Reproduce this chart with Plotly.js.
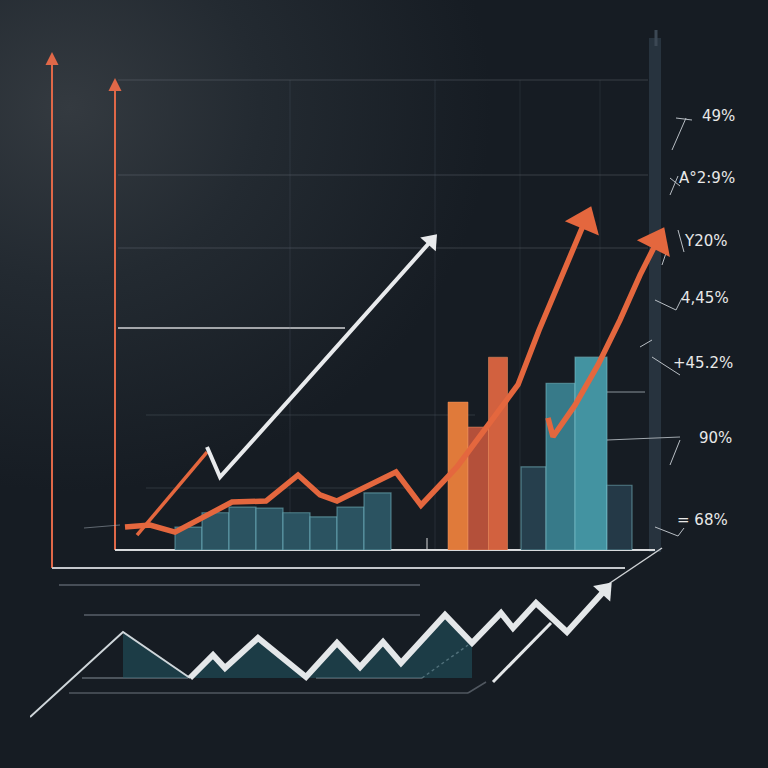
<!DOCTYPE html>
<html><head><meta charset="utf-8">
<script src="https://cdn.plot.ly/plotly-3.0.1.min.js"></script>
<style>
html,body{margin:0;padding:0;width:768px;height:768px;overflow:hidden;
background: radial-gradient(ellipse 55% 50% at 9% 14%, #343a40 0%, #232a31 45%, #161c23 100%);}
#chart{width:768px;height:768px;}
</style></head><body><div id="chart"></div>
<script>
// ---- main chart data (x: period units, y: value %) ----
const trendAX = [1.0, 3.5, 6.0, 11.7, 15.1, 18.3, 20.5, 22.2, 28.1, 30.6, 34.2, 40.3, 42.4, 47.0];
const trendAY = [4.5, 4.9, 3.5, 9.4, 9.6, 14.7, 10.8, 9.6, 15.3, 8.8, 16.3, 32.4, 43.1, 64.5];
const trendBX = [43.3, 43.8, 46.0, 48.3, 50.5, 52.5, 54.2];
const trendBY = [25.9, 22.2, 28.4, 36.3, 45.1, 53.9, 60.5];
const trendCX = [2.2, 9.2];
const trendCY = [2.9, 19.2];
const whiteX = [9.2, 10.5, 18.5, 31.6];
const whiteY = [20.2, 14.3, 31.8, 60.6];

const tealLeftX = [7.35, 10.05, 12.75, 15.45, 18.15, 20.85, 23.55, 26.25];
const tealLeftY = [4.5, 7.3, 8.4, 8.2, 7.3, 6.5, 8.4, 11.2];
const orangeBarX = [34.3, 36.35, 38.3];
const orangeBarY = [29.0, 24.1, 37.8];
const tealRightX = [41.85, 44.55, 47.6, 50.45];
const tealRightY = [16.3, 32.7, 37.8, 12.7];

// ---- lower zigzag data ----
const zigX = [0, 9.3, 16.0, 18.3, 19.5, 22.8, 27.6, 30.7, 33.0, 35.3, 37.1, 41.5, 44.2, 47.1, 48.3, 50.6, 53.7, 57.5];
const zigY = [0.3, 8.8, 4.2, 6.5, 5.2, 8.2, 4.3, 7.7, 5.3, 7.8, 5.7, 10.5, 7.7, 10.7, 9.2, 11.7, 8.8, 13.0];
const zigBase = 4.2;

// ---- right side labels ----
const labelText = ["49%", "A°2:9%", "Y20%", "4,45%", "+45.2%", "90%", "= 68%"];

const ORANGE = '#e4673e';
const endMarker = (n, s) => Array.from({length: n}, (_, i) => i === n - 1 ? s : 0);
const arrowMarker = (n, s, c) => ({symbol:'triangle-up', angleref:'previous', size:endMarker(n, s), color:c, opacity:1, line:{width:0}});

const traces = [];
// bars
traces.push({type:'bar', x:tealLeftX, y:tealLeftY, width:2.7, xaxis:'x', yaxis:'y',
  marker:{color:'#2b5361', line:{color:'rgba(120,190,200,0.55)', width:1.2}}, hoverinfo:'skip'});
traces.push({type:'bar', x:orangeBarX, y:orangeBarY, width:[2.0,2.1,1.9], xaxis:'x', yaxis:'y',
  marker:{color:['#e07a3a','#b4503a','#d2613f'], line:{color:'rgba(240,150,100,0.5)', width:1}}, hoverinfo:'skip'});
traces.push({type:'bar', x:tealRightX, y:tealRightY, width:[2.5,2.9,3.2,2.5], xaxis:'x', yaxis:'y',
  marker:{color:['#263f4d','#377a89','#4393a1','#243947'], line:{color:'rgba(130,200,210,0.5)', width:1.2}}, hoverinfo:'skip'});
// lines
traces.push({type:'scatter', mode:'lines', x:trendCX, y:trendCY, xaxis:'x', yaxis:'y',
  line:{color:ORANGE, width:3.5}, hoverinfo:'skip'});
traces.push({type:'scatter', mode:'lines+markers', x:whiteX, y:whiteY, xaxis:'x', yaxis:'y',
  line:{color:'#e8eaec', width:4}, marker:arrowMarker(whiteX.length, 18, '#e8eaec'), hoverinfo:'skip'});
traces.push({type:'scatter', mode:'lines+markers', x:trendAX, y:trendAY, xaxis:'x', yaxis:'y',
  line:{color:ORANGE, width:5.5}, marker:arrowMarker(trendAX.length, 32, ORANGE), hoverinfo:'skip'});
traces.push({type:'scatter', mode:'lines+markers', x:trendBX, y:trendBY, xaxis:'x', yaxis:'y',
  line:{color:ORANGE, width:5.5}, marker:arrowMarker(trendBX.length, 32, ORANGE), hoverinfo:'skip'});

// zigzag fill
const fillX = zigX.slice(1, 13), fillY = zigY.slice(1, 13);
traces.push({type:'scatter', mode:'lines', x:[fillX[0], fillX[fillX.length-1]], y:[zigBase, zigBase],
  xaxis:'x2', yaxis:'y2', line:{width:0}, hoverinfo:'skip'});
traces.push({type:'scatter', mode:'lines', x:fillX, y:fillY, xaxis:'x2', yaxis:'y2', fill:'tonexty',
  fillcolor:'rgba(34,92,106,0.5)', line:{width:0}, hoverinfo:'skip'});
traces.push({type:'scatter', mode:'lines', x:zigX.slice(0,3), y:zigY.slice(0,3), xaxis:'x2', yaxis:'y2',
  line:{color:'#cfd6da', width:2}, hoverinfo:'skip'});
const zx = zigX.slice(2), zy = zigY.slice(2);
traces.push({type:'scatter', mode:'lines+markers', x:zx, y:zy, xaxis:'x2', yaxis:'y2',
  line:{color:'#e4e7e9', width:6}, marker:arrowMarker(zx.length, 20, '#e4e7e9'), hoverinfo:'skip'});

// ---- decorations (paper coords from pixel positions) ----
const PX = v => v / 768, PY = v => 1 - v / 768;
const L = (x0, y0, x1, y1, color, width, dash) => ({type:'line', xref:'paper', yref:'paper',
  x0:PX(x0), y0:PY(y0), x1:PX(x1), y1:PY(y1), line:{color, width, dash: dash || 'solid'}, layer:'below'});
const shapes = [
  {type:'rect', xref:'paper', yref:'paper', x0:PX(649), x1:PX(661), y0:PY(552), y1:PY(38), fillcolor:'#27333e', line:{width:0}, layer:'below'},
  L(656, 30, 656, 46, '#3c4854', 3),
  L(118, 80, 648, 80, 'rgba(120,130,140,0.35)', 1),
  L(118, 175, 648, 175, 'rgba(120,130,140,0.35)', 1),
  L(118, 248, 648, 248, 'rgba(120,130,140,0.35)', 1),
  L(118, 328, 345, 328, '#d0d2d4', 1.5),
  L(146, 415, 475, 415, 'rgba(110,120,130,0.3)', 1),
  L(146, 488, 410, 488, 'rgba(110,120,130,0.3)', 1),
  L(607, 392, 645, 392, '#8a939b', 1),
  L(607, 440, 680, 437, '#a0a7ad', 1),
  L(290, 80, 290, 550, 'rgba(90,100,110,0.25)', 1),
  L(435, 80, 435, 550, 'rgba(90,100,110,0.25)', 1),
  L(520, 80, 520, 550, 'rgba(90,100,110,0.2)', 1),
  L(600, 80, 600, 550, 'rgba(90,100,110,0.2)', 1),
  L(115, 88, 115, 550, '#e06848', 2),
  L(115, 550, 655, 550, '#d8dadc', 2),
  L(52, 62, 52, 568, '#e06848', 2),
  L(52, 568, 625, 568, '#c5c8cc', 2),
  L(607, 585, 662, 548, '#cfd2d5', 1.5),
  L(59, 585, 420, 585, 'rgba(170,180,190,0.45)', 1.5),
  L(84, 615, 420, 615, 'rgba(170,180,190,0.45)', 1.5),
  L(82, 678, 188, 678, 'rgba(170,180,190,0.5)', 1.5),
  L(316, 678, 422, 678, 'rgba(170,180,190,0.5)', 1.5),
  L(422, 678, 468, 645, 'rgba(200,205,210,0.6)', 1.5, 'dot'),
  L(69, 693, 468, 693, 'rgba(150,160,170,0.45)', 1.5),
  L(468, 693, 486, 682, 'rgba(150,160,170,0.45)', 1.5),
  L(493, 682, 551, 623, '#e4e7e9', 3),
  L(427, 538, 427, 550, '#d8dadc', 1),
  L(84, 528, 120, 525, 'rgba(170,180,190,0.5)', 1),
  // label tick glyphs
  L(672, 150, 686, 118, '#b8bec4', 1), L(676, 118, 692, 120, '#b8bec4', 1),
  L(670, 195, 678, 176, '#b8bec4', 1), L(670, 178, 680, 186, '#b8bec4', 1),
  L(678, 230, 684, 252, '#b8bec4', 1), L(662, 265, 667, 250, '#b8bec4', 1),
  L(655, 300, 676, 310, '#b8bec4', 1), L(676, 310, 682, 298, '#b8bec4', 1),
  L(652, 340, 640, 347, '#b8bec4', 1), L(652, 357, 680, 375, '#b8bec4', 1),
  L(670, 465, 680, 440, '#b8bec4', 1),
  L(655, 527, 678, 536, '#b8bec4', 1), L(678, 536, 684, 528, '#b8bec4', 1)
];

const labelPX = [700, 677, 682, 679, 671, 697, 675];
const labelPY = [116, 178, 241, 298, 363, 438, 520];
const annotations = labelText.map((t, i) => ({xref:'paper', yref:'paper', x:PX(labelPX[i]), y:PY(labelPY[i]),
  xanchor:'left', yanchor:'middle', text:t, showarrow:false,
  font:{family:'DejaVu Sans, sans-serif', size:15, color:'#e8e8e8'}}));
annotations.push({xref:'paper', yref:'paper', x:PX(115), y:PY(78), ax:0, ay:22, text:'', showarrow:true,
  arrowhead:2, arrowsize:1.3, arrowwidth:2, arrowcolor:'#e06848'});
annotations.push({xref:'paper', yref:'paper', x:PX(52), y:PY(52), ax:0, ay:22, text:'', showarrow:true,
  arrowhead:2, arrowsize:1.3, arrowwidth:2, arrowcolor:'#e06848'});

const hidden = {visible:false, showgrid:false, zeroline:false, fixedrange:true};
const layout = {
  width:768, height:768, margin:{l:0, r:0, t:0, b:0},
  paper_bgcolor:'rgba(0,0,0,0)', plot_bgcolor:'rgba(0,0,0,0)',
  showlegend:false, barmode:'overlay',
  xaxis: Object.assign({domain:[115/768, 700/768], range:[0, 58.5], anchor:'y'}, hidden),
  yaxis: Object.assign({domain:[218/768, 728/768], range:[0, 100], anchor:'x'}, hidden),
  xaxis2: Object.assign({domain:[30/768, 670/768], range:[0, 64], anchor:'y2'}, hidden),
  yaxis2: Object.assign({domain:[48/768, 228/768], range:[0, 18], anchor:'x2'}, hidden),
  shapes, annotations
};
Plotly.newPlot('chart', traces, layout, {staticPlot:true, displayModeBar:false});
</script></body></html>
